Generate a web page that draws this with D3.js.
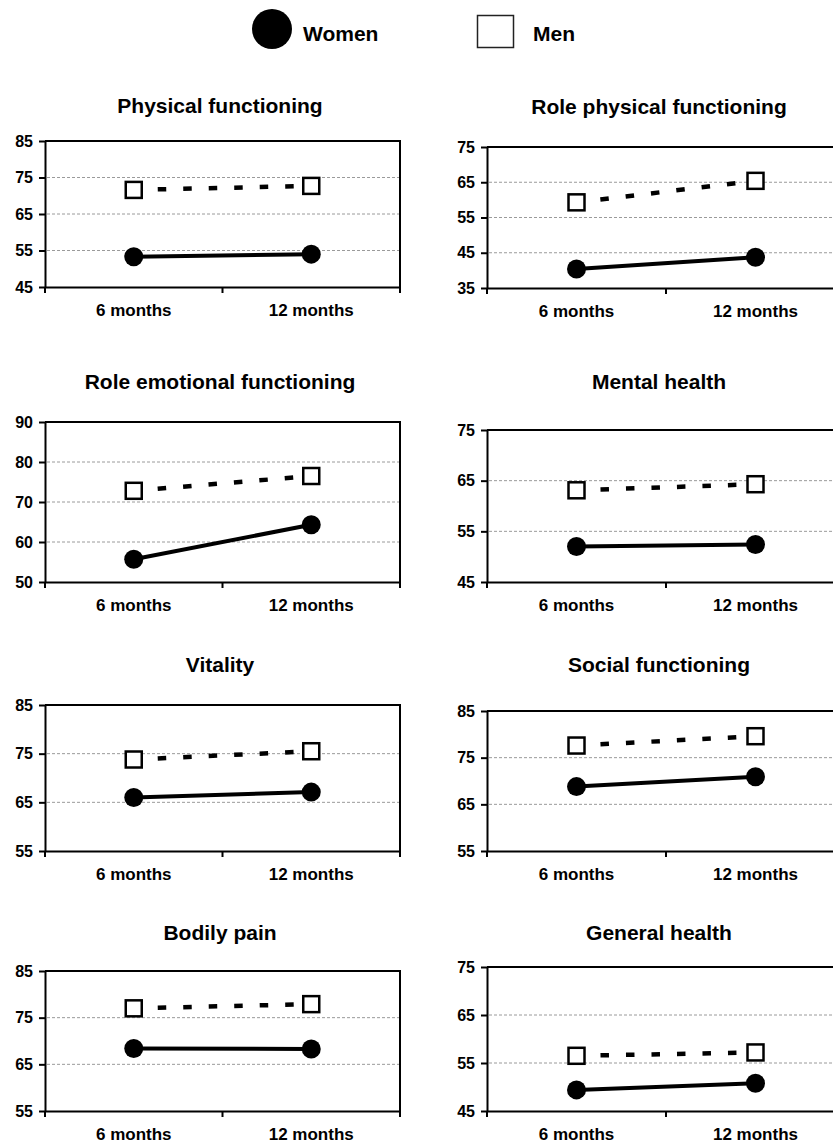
<!DOCTYPE html>
<html>
<head>
<meta charset="utf-8">
<script src="https://cdn.jsdelivr.net/npm/d3@7"></script>
<style>
  html, body { margin: 0; padding: 0; background: #fff; }
  svg { display: block; font-family: "Liberation Sans", Arial, sans-serif; font-weight: bold; }
</style>
</head>
<body>
<div class="chart"></div>
<script>
// data (SF-36 scores, 6 vs 12 months)
const timepoints = ["6 months", "12 months"];
const panelTitles = [
  "Physical functioning", "Role physical functioning",
  "Role emotional functioning", "Mental health",
  "Vitality", "Social functioning",
  "Bodily pain", "General health"
];
const yDomains = [[45, 85], [35, 75], [50, 90], [45, 75], [55, 85], [55, 85], [55, 85], [45, 75]];
const yTickLabels = [
  [45, 55, 65, 75, 85], [35, 45, 55, 65, 75], [50, 60, 70, 80, 90], [45, 55, 65, 75],
  [55, 65, 75, 85], [55, 65, 75, 85], [55, 65, 75, 85], [45, 55, 65, 75]
];
const womenValues = [[53.3, 54.0], [40.4, 43.7], [55.7, 64.3], [52.0, 52.4], [66.0, 67.1], [68.8, 70.9], [68.4, 68.3], [49.4, 50.8]];
const menValues = [[71.6, 72.7], [59.3, 65.4], [72.8, 76.5], [63.1, 64.3], [73.8, 75.5], [77.6, 79.6], [77.0, 77.9], [56.5, 57.2]];

// layout of the plot boxes (pixels)
const columns = [{ x0: 45, x1: 400, titleX: 220 }, { x0: 487, x1: 845, titleX: 659 }];
const boxes = [
  { top: 141, bottom: 287, titleY: 113 }, { top: 147, bottom: 288, titleY: 114 },
  { top: 422, bottom: 582, titleY: 389 }, { top: 430, bottom: 582, titleY: 389 },
  { top: 705, bottom: 851, titleY: 672 }, { top: 711, bottom: 851, titleY: 672 },
  { top: 971, bottom: 1111, titleY: 940 }, { top: 967, bottom: 1111, titleY: 940 }
];

const width = 833, height = 1144;

const svg = d3.select(".chart").append("svg")
  .attr("width", width)
  .attr("height", height);

// legend
const legend = svg.append("g");
legend.append("circle").attr("cx", 272).attr("cy", 29).attr("r", 20).attr("fill", "#000");
legend.append("text").attr("x", 303).attr("y", 40.5).attr("font-size", "21px").text("Women");
legend.append("rect").attr("x", 477.5).attr("y", 15.5).attr("width", 36).attr("height", 32)
  .attr("fill", "#fff").attr("stroke", "#222").attr("stroke-width", 1.5);
legend.append("text").attr("x", 533).attr("y", 40.5).attr("font-size", "21px").text("Men");

panelTitles.forEach((title, i) => {
  const col = columns[i % 2];
  const box = boxes[i];
  const g = svg.append("g");

  let x = d3.scaleBand()
    .domain(timepoints)
    .range([col.x0, col.x1]);
  let y = d3.scaleLinear()
    .domain(yDomains[i])
    .range([box.bottom, box.top]);
  const cx = d => x(d) + x.bandwidth() / 2;

  // title
  g.append("text")
    .attr("x", col.titleX)
    .attr("y", box.titleY)
    .attr("text-anchor", "middle")
    .attr("font-size", "21px")
    .text(title);

  // dotted gray gridlines at the inner ticks
  const inner = yTickLabels[i].filter(t => t !== yDomains[i][0] && t !== yDomains[i][1]);
  g.selectAll(".grid")
    .data(inner)
    .enter()
    .append("line")
      .attr("x1", col.x0 + 2).attr("x2", col.x1)
      .attr("y1", d => y(d)).attr("y2", d => y(d))
      .attr("stroke", "#9a9a9a")
      .attr("stroke-width", 1)
      .attr("stroke-dasharray", "3,2");

  // top and right frame
  g.append("path")
    .attr("d", `M${col.x0},${box.top}H${col.x1}V${box.bottom}`)
    .attr("fill", "none")
    .attr("stroke", "#000")
    .attr("stroke-width", 2);

  // y axis
  const yAxis = g.append("g")
    .attr("transform", `translate(${col.x0},0)`)
    .call(d3.axisLeft(y).tickValues(yTickLabels[i]).tickSize(6).tickPadding(6).tickSizeOuter(0));
  yAxis.select(".domain").attr("stroke", "#000").attr("stroke-width", 2);
  yAxis.selectAll(".tick line").attr("stroke", "#000").attr("stroke-width", 2);
  yAxis.selectAll(".tick text")
    .attr("font-size", "16px")
    .attr("font-family", "Liberation Sans, Arial, sans-serif")
    .attr("font-weight", "bold")
    .attr("fill", "#000");

  // x axis: labels at band centres, ticks at band edges
  const xAxis = g.append("g")
    .attr("transform", `translate(0,${box.bottom})`)
    .call(d3.axisBottom(x).tickSize(0).tickPadding(17).tickSizeOuter(0));
  xAxis.select(".domain").attr("stroke", "#000").attr("stroke-width", 2);
  xAxis.selectAll(".tick text")
    .attr("font-size", "17px")
    .attr("font-family", "Liberation Sans, Arial, sans-serif")
    .attr("font-weight", "bold")
    .attr("fill", "#000");
  const edges = [col.x0].concat(timepoints.map(d => x(d) + x.bandwidth()));
  g.selectAll(".xtick")
    .data(edges)
    .enter()
    .append("line")
      .attr("x1", d => d).attr("x2", d => d)
      .attr("y1", box.bottom).attr("y2", box.bottom + 6)
      .attr("stroke", "#000").attr("stroke-width", 2);

  const line = d3.line()
    .x(d => cx(d.t))
    .y(d => y(d.v));

  const men = timepoints.map((t, j) => ({ t: t, v: menValues[i][j] }));
  const women = timepoints.map((t, j) => ({ t: t, v: womenValues[i][j] }));

  // men: dashed line with open squares
  g.append("path")
    .datum(men)
    .attr("d", line)
    .attr("fill", "none")
    .attr("stroke", "#000")
    .attr("stroke-width", 4.5)
    .attr("stroke-dasharray", "8.5,17")
    .attr("stroke-dashoffset", 1.5);
  g.selectAll(".men")
    .data(men)
    .enter()
    .append("rect")
      .attr("x", d => cx(d.t) - 8)
      .attr("y", d => y(d.v) - 8)
      .attr("width", 16).attr("height", 16)
      .attr("fill", "#fff")
      .attr("stroke", "#000")
      .attr("stroke-width", 2.5);

  // women: solid line with filled circles
  g.append("path")
    .datum(women)
    .attr("d", line)
    .attr("fill", "none")
    .attr("stroke", "#000")
    .attr("stroke-width", 4);
  g.selectAll(".women")
    .data(women)
    .enter()
    .append("circle")
      .attr("cx", d => cx(d.t))
      .attr("cy", d => y(d.v))
      .attr("r", 9.5)
      .attr("fill", "#000");
});
</script>
</body>
</html>
